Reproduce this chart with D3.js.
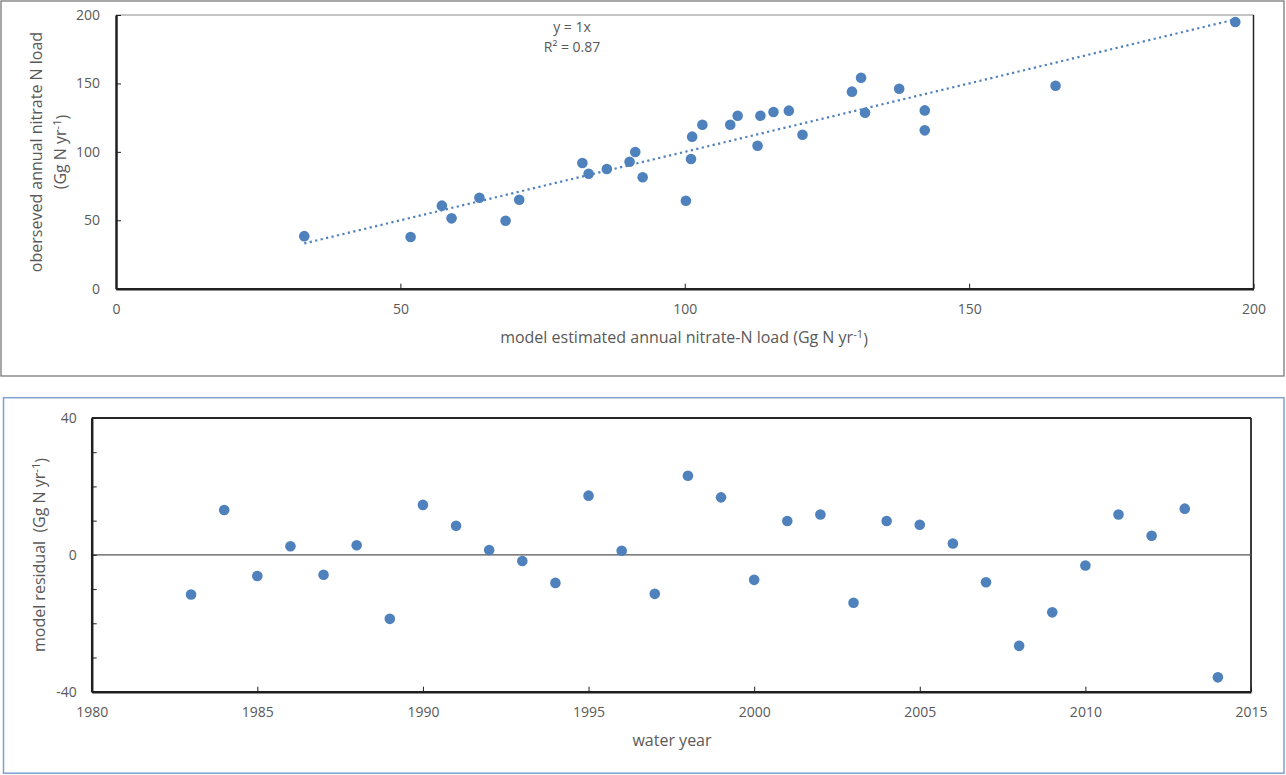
<!DOCTYPE html>
<html>
<head>
<meta charset="utf-8">
<script src="https://cdn.jsdelivr.net/npm/d3@7"></script>
<style>
  body { margin: 0; background: #fff; }
  text { font-family: "Open Sans", sans-serif; fill: #595959; white-space: pre; }
</style>
</head>
<body>
<svg id="chart" width="1286" height="775"></svg>
<script>
// top panel: model estimate vs observed load
const estimated = [33.1, 51.8, 57.3, 59.0, 63.9, 68.5, 70.9, 82.0, 83.1, 86.3, 90.3, 91.3, 92.6, 100.2, 101.1, 101.3,
    103.1, 108.0, 109.3, 112.8, 113.3, 115.6, 118.3, 120.7, 129.4, 131.0, 131.7, 137.7, 142.2, 142.2, 165.2, 196.8];
const observed = [38.4, 37.8, 60.7, 51.4, 66.5, 49.7, 65.0, 91.9, 84.0, 87.5, 92.8, 99.9, 81.4, 64.3, 94.8, 111.1,
    119.8, 119.8, 126.4, 104.5, 126.4, 129.1, 130.1, 112.5, 144.0, 154.2, 128.6, 146.1, 130.3, 115.7, 148.3, 194.9];
const scatterTicks = [0, 50, 100, 150, 200];

// bottom panel: residual by water year
const waterYears = d3.range(1983, 2015);
const residuals = [-11.6, 13.1, -6.2, 2.5, -5.8, 2.8, -18.7, 14.6, 8.5, 1.4, -1.8, -8.2, 17.3, 1.2, -11.4, 23.1,
    16.8, -7.3, 9.9, 11.8, -14.0, 9.9, 8.8, 3.3, -8.0, -26.6, -16.8, -3.1, 11.8, 5.6, 13.5, -35.8];
const yearTicks = [1980, 1985, 1990, 1995, 2000, 2005, 2010, 2015];
const residualTicks = [-40, -30, -20, -10, 0, 10, 20, 30, 40];

const blue = '#4f81bd';
const svg = d3.select('#chart');

// superscript helper for "yr-1"
function unitLabel(sel, before, after) {
    sel.append('tspan').text(before);
    sel.append('tspan').attr('font-size', '0.7em').attr('dy', '-0.45em').text('-1');
    sel.append('tspan').attr('dy', '0.45em').text(after);
}

function styleAxis(g) {
    g.select('.domain').attr('stroke', '#1f1f1f').attr('stroke-width', 2.5);
    g.selectAll('.tick line').attr('stroke', '#1f1f1f');
    g.selectAll('text').attr('font-size', 14).attr('font-family', 'Open Sans').attr('fill', '#595959');
}

// ---------- top chart ----------
svg.append('rect')
    .attr('x', 1).attr('y', 1).attr('width', 1283).attr('height', 375)
    .attr('fill', 'none').attr('stroke', '#6e6e6e').attr('stroke-width', 1.2);

const x1 = d3.scaleLinear().domain([0, 200]).range([116, 1253.5]);
const y1 = d3.scaleLinear().domain([0, 200]).range([288.7, 15]);

const topPanel = svg.append('g');

topPanel.append('line')
    .attr('x1', x1(0)).attr('x2', x1(200)).attr('y1', y1(200)).attr('y2', y1(200))
    .attr('stroke', '#8c8c8c').attr('stroke-width', 1.2);
topPanel.append('line')
    .attr('x1', x1(200)).attr('x2', x1(200)).attr('y1', y1(0)).attr('y2', y1(200))
    .attr('stroke', '#262626').attr('stroke-width', 1.5);

topPanel.append('g')
    .attr('transform', `translate(0,${y1(0)})`)
    .call(d3.axisBottom(x1).tickValues(scatterTicks).tickSize(-5).tickPadding(15).tickSizeOuter(0))
    .call(styleAxis);

topPanel.append('g')
    .attr('transform', `translate(${x1(0)},0)`)
    .call(d3.axisLeft(y1).tickValues(scatterTicks).tickSize(-5).tickPadding(16).tickSizeOuter(0))
    .call(styleAxis);

// y = 1x trend line over the data range
const xMin = d3.min(estimated), xMax = d3.max(estimated);
topPanel.append('line')
    .attr('x1', x1(xMin)).attr('y1', y1(xMin))
    .attr('x2', x1(xMax)).attr('y2', y1(xMax))
    .attr('stroke', blue).attr('stroke-width', 2.2)
    .attr('stroke-dasharray', '2.2 3.4');

topPanel.selectAll('circle')
    .data(estimated)
    .enter()
    .append('circle')
    .attr('cx', d => x1(d))
    .attr('cy', (d, i) => y1(observed[i]))
    .attr('r', 5.3)
    .attr('fill', blue);

topPanel.append('text')
    .attr('x', 572).attr('y', 32).attr('text-anchor', 'middle').attr('font-size', 14)
    .text('y = 1x');
topPanel.append('text')
    .attr('x', 572).attr('y', 51.5).attr('text-anchor', 'middle').attr('font-size', 14)
    .text('R² = 0.87');

topPanel.append('text')
    .attr('x', 684).attr('y', 343).attr('text-anchor', 'middle').attr('font-size', 16)
    .call(unitLabel, 'model estimated annual nitrate-N load (Gg N yr', ')');

topPanel.append('text')
    .attr('transform', 'translate(42,152) rotate(-90)').attr('text-anchor', 'middle').attr('font-size', 16)
    .text('oberseved annual nitrate N load');
topPanel.append('text')
    .attr('transform', 'translate(66,152) rotate(-90)').attr('text-anchor', 'middle').attr('font-size', 16)
    .call(unitLabel, '(Gg N yr', ')');

// ---------- bottom chart ----------
svg.append('rect')
    .attr('x', 3.5).attr('y', 397.7).attr('width', 1280.5).attr('height', 375.5)
    .attr('fill', 'none').attr('stroke', '#7fa1cf').attr('stroke-width', 1.5);

const x2 = d3.scaleLinear().domain([1980, 2015]).range([91.7, 1251]);
const y2 = d3.scaleLinear().domain([-40, 40]).range([691.7, 418]);

const bottomPanel = svg.append('g');

bottomPanel.append('line')
    .attr('x1', x2(1980)).attr('x2', x2(2015)).attr('y1', y2(40)).attr('y2', y2(40))
    .attr('stroke', '#262626').attr('stroke-width', 2);
bottomPanel.append('line')
    .attr('x1', x2(2015)).attr('x2', x2(2015)).attr('y1', y2(-40)).attr('y2', y2(40))
    .attr('stroke', '#262626').attr('stroke-width', 1.8);
bottomPanel.append('line')
    .attr('x1', x2(1980)).attr('x2', x2(2015)).attr('y1', y2(0)).attr('y2', y2(0))
    .attr('stroke', '#555').attr('stroke-width', 1.3);

bottomPanel.append('g')
    .attr('transform', `translate(0,${y2(-40)})`)
    .call(d3.axisBottom(x2).tickValues(yearTicks).tickFormat(d3.format('d')).tickSize(-5).tickPadding(15).tickSizeOuter(0))
    .call(styleAxis);

bottomPanel.append('g')
    .attr('transform', `translate(${x2(1980)},0)`)
    .call(d3.axisLeft(y2).tickValues(residualTicks).tickFormat(d => d % 40 === 0 ? d : '').tickSize(-5).tickPadding(15).tickSizeOuter(0))
    .call(styleAxis);

bottomPanel.selectAll('circle')
    .data(residuals)
    .enter()
    .append('circle')
    .attr('cx', (d, i) => x2(waterYears[i]))
    .attr('cy', d => y2(d))
    .attr('r', 5.3)
    .attr('fill', blue);

bottomPanel.append('text')
    .attr('x', 672).attr('y', 746).attr('text-anchor', 'middle').attr('font-size', 16)
    .text('water year');

bottomPanel.append('text')
    .attr('transform', 'translate(45,555) rotate(-90)').attr('text-anchor', 'middle').attr('font-size', 16)
    .call(unitLabel, 'model residual  (Gg N yr', ')');
</script>
</body>
</html>
